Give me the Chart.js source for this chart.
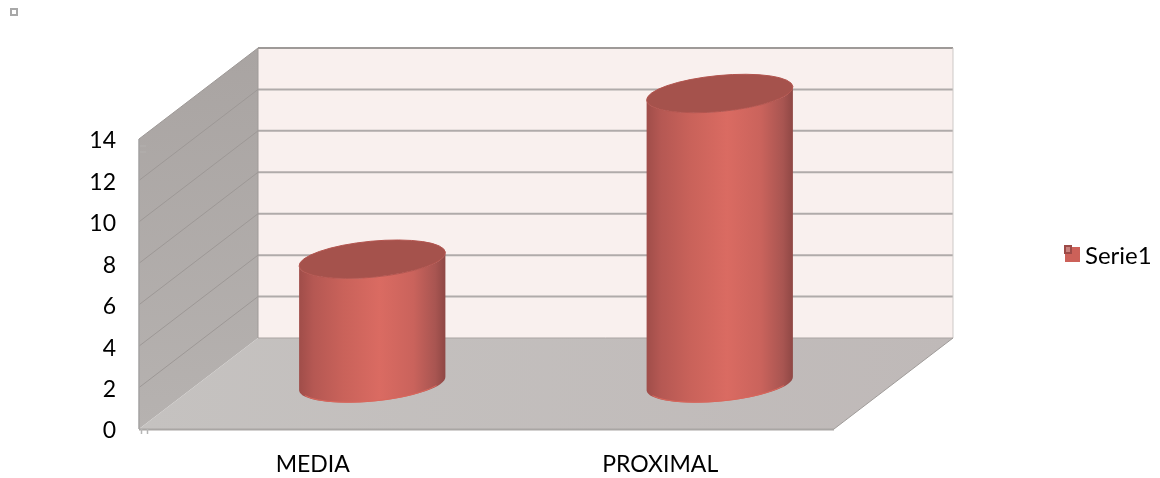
<!DOCTYPE html>
<html>
<head>
<meta charset="utf-8">
<title>Serie1</title>
<script src="https://cdn.jsdelivr.net/npm/chart.js@4"></script>
<style>
    html, body { margin: 0; padding: 0; background: #fff; }
    #wrap { width: 1160px; height: 478px; position: relative; }
</style>
</head>
<body>
<div id="wrap"><canvas id="cylinderChart"></canvas></div>
<script>
const categories = ['MEDIA', 'PROXIMAL'];
const seriesName = 'Serie1';
const seriesValues = [6, 14];
const yTicks = [0, 2, 4, 6, 8, 10, 12, 14];

const LABEL_FONT = { family: 'Lato, "Open Sans", sans-serif', size: 23 };

// How far the back wall sits behind the axis plane
const DEPTH_X = 119;
const DEPTH_Y = 91;

// Cylinder drawn in place of the flat bar, half way into the box
class CylinderElement extends Chart.BarElement {
    draw(ctx) {
        const { x, y, base, width } = this.getProps(['x', 'y', 'base', 'width']);
        const cx = x + DEPTH_X / 2;
        const top = y - DEPTH_Y / 2;
        const bottom = base - DEPTH_Y / 2;
        const a = width / 2 + 0.5;
        const b = 18;
        const tilt = -0.095;

        const body = ctx.createLinearGradient(cx - a, 0, cx + a, 0);
        body.addColorStop(0, '#9f4d49');
        body.addColorStop(0.1, '#b55853');
        body.addColorStop(0.3, '#c9625a');
        body.addColorStop(0.55, '#da6b62');
        body.addColorStop(0.78, '#ca635c');
        body.addColorStop(0.93, '#a85551');
        body.addColorStop(1, '#8e4744');

        ctx.save();
        ctx.beginPath();
        ctx.ellipse(cx, bottom, a, b, tilt, 0, Math.PI);
        ctx.ellipse(cx, top, a, b, tilt, Math.PI, 0, true);
        ctx.closePath();
        ctx.fillStyle = body;
        ctx.fill();

        // lighter rim along the floor
        ctx.beginPath();
        ctx.ellipse(cx, bottom - 0.5, a - 1, b, tilt, 0.5, Math.PI - 0.35);
        ctx.strokeStyle = '#d9675c';
        ctx.lineWidth = 1;
        ctx.stroke();

        // cap
        ctx.beginPath();
        ctx.ellipse(cx, top, a, b, tilt, 0, Math.PI * 2);
        ctx.fillStyle = '#a5524c';
        ctx.fill();
        ctx.strokeStyle = '#b3554f';
        ctx.lineWidth = 1;
        ctx.stroke();
        ctx.restore();
    }
}
CylinderElement.id = 'cylinder';

class CylinderController extends Chart.BarController {}
CylinderController.id = 'cylinderBar';
CylinderController.defaults = Object.assign({}, Chart.BarController.defaults, { dataElementType: 'cylinder' });
CylinderController.overrides = Chart.BarController.overrides;

Chart.register(CylinderElement, CylinderController);

function polygon(ctx, points, fill) {
    ctx.beginPath();
    points.forEach(([px, py], i) => (i ? ctx.lineTo(px, py) : ctx.moveTo(px, py)));
    ctx.closePath();
    ctx.fillStyle = fill;
    ctx.fill();
}

function segment(ctx, x1, y1, x2, y2, color, lineWidth) {
    ctx.beginPath();
    ctx.moveTo(x1, y1);
    ctx.lineTo(x2, y2);
    ctx.strokeStyle = color;
    ctx.lineWidth = lineWidth;
    ctx.stroke();
}

// Walls, floor and gridlines of the 3D box, laid out from the axes
const boxPlugin = {
    id: 'box',
    beforeDatasetsDraw(chart) {
        const { ctx, scales: { x, y }, chartArea: { left, right } } = chart;
        const y0 = y.getPixelForValue(yTicks[0]);
        const yMax = y.getPixelForValue(yTicks[yTicks.length - 1]);
        const backLeft = left + DEPTH_X;
        const backRight = right + DEPTH_X;
        ctx.save();

        polygon(ctx, [[backLeft, yMax - DEPTH_Y], [backRight, yMax - DEPTH_Y], [backRight, y0 - DEPTH_Y], [backLeft, y0 - DEPTH_Y]], '#f9f0ee');

        const sideWall = ctx.createLinearGradient(0, yMax - DEPTH_Y, 0, y0);
        sideWall.addColorStop(0, '#a9a4a2');
        sideWall.addColorStop(1, '#b6b2b0');
        polygon(ctx, [[left, yMax], [backLeft, yMax - DEPTH_Y], [backLeft, y0 - DEPTH_Y], [left, y0]], sideWall);

        const floor = ctx.createLinearGradient(left, 0, backRight, 0);
        floor.addColorStop(0, '#c5c2c0');
        floor.addColorStop(1, '#bfb9b8');
        polygon(ctx, [[left, y0], [backLeft, y0 - DEPTH_Y], [backRight, y0 - DEPTH_Y], [right, y0]], floor);

        // gridlines wrap from the side wall onto the back wall
        yTicks.forEach(v => {
            const py = y.getPixelForValue(v);
            if (v === yTicks[0]) return;
            segment(ctx, left, py, backLeft, py - DEPTH_Y, '#9d9896', 1);
            if (v === yTicks[yTicks.length - 1]) return;
            segment(ctx, backLeft, py - DEPTH_Y, backRight, py - DEPTH_Y, '#b0abaa', 2);
        });

        segment(ctx, backLeft, yMax - DEPTH_Y, backRight, yMax - DEPTH_Y, '#9e9a98', 2);
        segment(ctx, backRight, yMax - DEPTH_Y, backRight, y0 - DEPTH_Y, '#cdc9c7', 1);
        segment(ctx, backLeft, y0 - DEPTH_Y, backRight, y0 - DEPTH_Y, '#aaa5a3', 1);
        segment(ctx, backLeft, yMax - DEPTH_Y, backLeft, y0 - DEPTH_Y, '#9f9a98', 1);
        segment(ctx, left, y0 + 0.5, right, y0 + 0.5, '#a9a6a4', 2);
        segment(ctx, right, y0, backRight, y0 - DEPTH_Y, '#9f9b99', 1);
        segment(ctx, left, y0, left, yMax, '#a3a2a2', 1.5);

        // stubby tick marks at the axis corners
        segment(ctx, left + 2.5, y0, left + 2.5, y0 + 5, '#b5b5b5', 1.5);
        segment(ctx, left + 8.5, y0, left + 8.5, y0 + 5, '#b5b5b5', 1.5);
        segment(ctx, left + 1, yMax + 7, left + 7, yMax + 7, '#b3b0ae', 1);
        segment(ctx, left + 1, yMax + 13, left + 7, yMax + 13, '#b3b0ae', 1);
        ctx.restore();
    },
    afterDraw(chart) {
        const { ctx } = chart;
        ctx.save();

        // small placeholder box in the page corner
        ctx.strokeStyle = '#a8a8a8';
        ctx.lineWidth = 2;
        ctx.strokeRect(11, 9, 6, 6);

        // legend on the right
        ctx.fillStyle = '#cc6159';
        ctx.fillRect(1065, 247, 15, 15);
        ctx.fillStyle = '#c9827e';
        ctx.fillRect(1065, 246, 7, 7);
        ctx.strokeStyle = '#9c4a47';
        ctx.lineWidth = 2;
        ctx.strokeRect(1065, 246, 6, 7);
        ctx.fillStyle = '#000';
        ctx.font = '24px ' + LABEL_FONT.family;
        ctx.textAlign = 'left';
        ctx.textBaseline = 'middle';
        ctx.fillText(chart.data.datasets[0].label, 1085, 256);
        ctx.restore();
    }
};

new Chart(document.getElementById('cylinderChart'), {
    type: 'cylinderBar',
    data: {
        labels: categories,
        datasets: [{
            label: seriesName,
            data: seriesValues,
            backgroundColor: '#cc6159',
            barPercentage: 0.42,
            categoryPercentage: 1,
            clip: false
        }]
    },
    options: {
        responsive: true,
        maintainAspectRatio: false,
        animation: false,
        layout: { padding: { top: 139, right: 326 } },
        plugins: {
            legend: { display: false },
            tooltip: { enabled: false }
        },
        scales: {
            x: {
                grid: { display: false },
                border: { display: false },
                ticks: { color: '#000', font: LABEL_FONT, padding: 14 },
                afterFit(scale) { scale.height = 49; }
            },
            y: {
                min: 0,
                max: 14,
                grid: { display: false },
                border: { display: false },
                ticks: { color: '#000', font: LABEL_FONT, stepSize: 2, padding: 15, labelOffset: 2 },
                afterFit(scale) { scale.width = 139; }
            }
        }
    },
    plugins: [boxPlugin]
});
</script>
</body>
</html>
